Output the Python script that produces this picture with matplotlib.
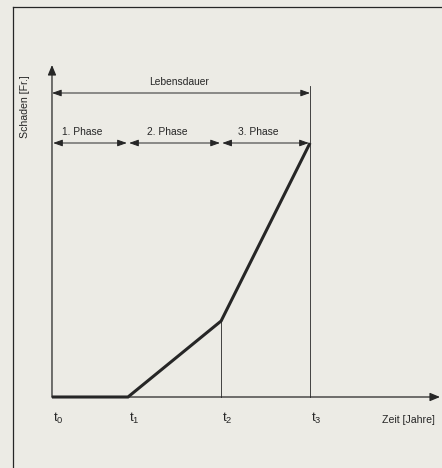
import matplotlib.pyplot as plt
from matplotlib.lines import Line2D

plt.rcParams['font.family'] = ['Liberation Sans', 'DejaVu Sans']

# phase boundaries t0..t3 (arbitrary time units) and damage at each boundary
times = [0.0, 2.0, 4.45, 6.79]
damage = [0.0, 0.0, 1.52, 5.08]
tick_labels = [r'$\mathregular{t_0}$', r'$\mathregular{t_1}$',
               r'$\mathregular{t_2}$', r'$\mathregular{t_3}$']
phase_labels = ['1. Phase', '2. Phase', '3. Phase']
life_label = 'Lebensdauer'
xlabel = 'Zeit [Jahre]'
ylabel = 'Schaden [Fr.]'

bg = '#ecebe5'
ink = '#262626'

fig = plt.figure(figsize=(4.42, 4.68), dpi=100, facecolor=bg)
ax = fig.add_axes([0, 0, 1, 1])
ax.set_facecolor(bg)
ax.set_xlim(-1.368, 10.263)
ax.set_ylim(-1.42, 7.94)
ax.axis('off')

# partial frame of the scanned figure
fig.add_artist(Line2D([13 / 442, 13 / 442], [0, 1 - 7 / 468], color=ink, lw=0.9))
fig.add_artist(Line2D([13 / 442, 1], [1 - 7 / 468, 1 - 7 / 468], color=ink, lw=0.9))

arrow_kw = dict(arrowstyle='-|>,head_length=0.6,head_width=0.25', color=ink,
                lw=0.9, mutation_scale=10, shrinkA=0, shrinkB=0)
dbl_kw = dict(arrowstyle='<|-|>,head_length=0.7,head_width=0.25', color=ink,
              lw=0.7, mutation_scale=8, shrinkA=0, shrinkB=0)

# axes with arrows
ax.annotate('', xy=(10.21, 0), xytext=(0, 0), arrowprops=arrow_kw)
ax.annotate('', xy=(0, 6.64), xytext=(0, 0), arrowprops=arrow_kw)

# thin guide lines
ax.plot([times[2], times[2]], [0, damage[2]], color=ink, lw=0.6)
ax.plot([times[3], times[3]], [0, 6.22], color=ink, lw=0.6)

# damage curve
ax.plot(times, damage, color=ink, lw=2.2, solid_joinstyle='miter',
        solid_capstyle='butt')

# lifetime arrow
life_y = 6.08
ax.annotate('', xy=(times[3], life_y), xytext=(times[0], life_y), arrowprops=dbl_kw)
ax.text((times[0] + times[3]) / 2 - 0.05, life_y + 0.12, life_label,
        ha='center', va='bottom', fontsize=7.4, color=ink)

# phase arrows
phase_y = damage[3]
for i, lab in enumerate(phase_labels):
    ax.annotate('', xy=(times[i + 1] - 0.03, phase_y), xytext=(times[i] + 0.03, phase_y),
                arrowprops=dbl_kw)
    ax.text((times[i] + times[i + 1]) / 2 - 0.2, phase_y + 0.12, lab,
            ha='center', va='bottom', fontsize=7.4, color=ink)

# time labels
for t, lab in zip(times, tick_labels):
    ax.text(t + 0.02, -0.42, lab, ha='left', va='center', fontsize=9.5, color=ink)

ax.text(10.08, -0.46, xlabel, ha='right', va='center', fontsize=7.6, color=ink)
ax.text(-0.71, 6.44, ylabel, rotation=90, ha='center', va='top',
        fontsize=7.6, color=ink)

fig.savefig('out.png', dpi=100, facecolor=bg)
